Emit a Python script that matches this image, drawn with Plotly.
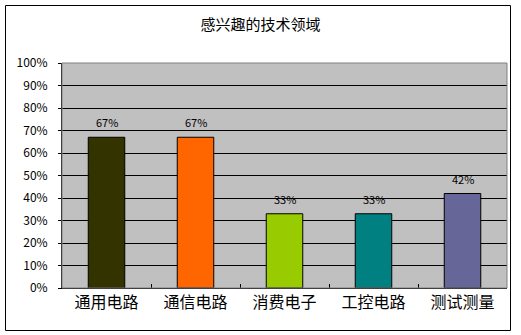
import plotly.graph_objects as go

categories = ["通用电路", "通信电路", "消费电子", "工控电路", "测试测量"]
values = [0.67, 0.67, 0.33, 0.33, 0.42]
labels = ["67%", "67%", "33%", "33%", "42%"]
colors = ["#333300", "#FF6600", "#99CC00", "#008080", "#666699"]
title_text = "感兴趣的技术领域"

W, H = 521, 335
L, R, T, B = 62, 14, 63, 47
pw, ph = W - L - R, H - T - B


def px_x(x):
    return (x - L) / pw


def px_y(y):
    return 1 - (y - T) / ph


font = "Noto Sans CJK SC, SimSun, sans-serif"

fig = go.Figure(
    go.Bar(
        x=categories,
        y=values,
        marker=dict(color=colors, line=dict(color="black", width=1)),
        width=0.41,
        cliponaxis=False,
    )
)

# value labels above each bar
for cat, val, lab in zip(categories, values, labels):
    fig.add_annotation(
        x=cat, y=val, text=lab, showarrow=False,
        yanchor="bottom", yshift=5,
        font=dict(family=font, size=11, color="black"),
    )

fig.update_layout(
    width=W,
    height=H,
    margin=dict(l=L, r=R, t=T, b=B),
    paper_bgcolor="white",
    plot_bgcolor="#C0C0C0",
    showlegend=False,
    font=dict(family=font, color="black"),
    title=dict(
        text=title_text,
        x=0.5,
        xanchor="center",
        y=1 - 25 / H,
        yanchor="middle",
        font=dict(family=font, size=15, color="black"),
    ),
    xaxis=dict(
        showgrid=False,
        showline=True,
        linecolor="black",
        linewidth=1,
        ticks="inside",
        tickson="boundaries",
        ticklen=4,
        tickcolor="black",
        tickfont=dict(family=font, size=16, color="black"),
    ),
    yaxis=dict(
        range=[0, 1],
        dtick=0.1,
        tickformat=".0%",
        showgrid=True,
        gridcolor="black",
        gridwidth=1,
        showline=True,
        linecolor="black",
        linewidth=1,
        ticks="outside",
        ticklen=3,
        tickcolor="black",
        ticklabelstandoff=8,
        tickfont=dict(family=font, size=12, color="black"),
        zeroline=False,
    ),
    bargap=0.59,
    shapes=[
        dict(
            type="rect", xref="paper", yref="paper",
            x0=0, x1=1, y0=0, y1=1,
            line=dict(color="#808080", width=1),
        ),
        dict(
            type="rect", xref="paper", yref="paper",
            x0=px_x(5.5), x1=px_x(510.5), y0=px_y(330.5), y1=px_y(5.5),
            line=dict(color="black", width=1),
        ),
    ],
)

fig.write_html("out.html")
